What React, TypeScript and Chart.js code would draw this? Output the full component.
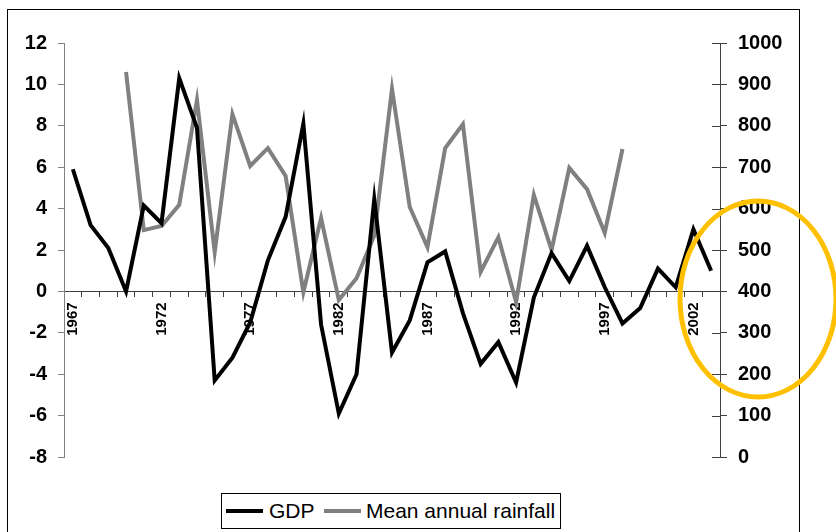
import React, { useEffect, useRef } from 'react';
import { Chart, registerables } from 'chart.js';

Chart.register(...registerables);

const years: string[] = [
  '1967', '1968', '1969', '1970', '1971', '1972', '1973', '1974', '1975', '1976',
  '1977', '1978', '1979', '1980', '1981', '1982', '1983', '1984', '1985', '1986',
  '1987', '1988', '1989', '1990', '1991', '1992', '1993', '1994', '1995', '1996',
  '1997', '1998', '1999', '2000', '2001', '2002', '2003',
];

const gdp: number[] = [
  5.9, 3.2, 2.1, 0.0, 4.15, 3.3, 10.3, 7.9, -4.3, -3.2,
  -1.5, 1.5, 3.6, 8.1, -1.6, -5.9, -4.0, 4.45, -2.95, -1.4,
  1.4, 1.93, -1.05, -3.5, -2.45, -4.4, -0.3, 1.85, 0.5, 2.2,
  0.2, -1.55, -0.8, 1.1, 0.2, 3.0, 1.0,
];

const rainfall: (number | null)[] = [
  null, null, null, 930, 548, 558, 609, 862, 495, 828,
  703, 746, 679, 398, 577, 379, 432, 535, 889, 604,
  507, 746, 804, 447, 531, 374, 633, 500, 698, 647,
  541, 744, null, null, null, null, null,
];

const gdpTicks = { min: -8, max: 12, step: 2 };
const rainTicks = { min: 0, max: 1000, step: 100 };
const labelEvery = 5;

const seriesNames = ['GDP', 'Mean annual rainfall'];
const seriesColors = ['#000000', '#808080'];

const FONT = '"Liberation Sans", Arial, sans-serif';

const decorPlugin = {
  id: 'decor',
  beforeDraw(chart: any) {
    const ctx = chart.ctx;
    ctx.save();
    ctx.fillStyle = '#ffffff';
    ctx.fillRect(0, 0, chart.width, chart.height);
    ctx.strokeStyle = '#000000';
    ctx.lineWidth = 1;
    ctx.strokeRect(7.5, 9.5, 792, 600);
    ctx.restore();
  },
  afterDraw(chart: any) {
    const ctx = chart.ctx;
    const s = chart.scales.y1;
    ctx.save();
    ctx.strokeStyle = '#404040';
    ctx.lineWidth = 1;
    s.ticks.forEach((t: any) => {
      const y = Math.round(s.getPixelForValue(t.value)) + 0.5;
      ctx.beginPath();
      ctx.moveTo(s.left - 8, y);
      ctx.lineTo(s.left, y);
      ctx.stroke();
    });
    ctx.strokeStyle = '#FFC000';
    ctx.lineWidth = 5;
    ctx.beginPath();
    ctx.ellipse(758, 299, 78, 98, 0, 0, Math.PI * 2);
    ctx.stroke();
    ctx.restore();
  },
};

export default function App() {
  const ref = useRef<HTMLCanvasElement | null>(null);

  useEffect(() => {
    if (!ref.current) return;
    const chart = new Chart(ref.current, {
      type: 'line',
      data: {
        labels: years,
        datasets: [
          {
            label: seriesNames[0],
            data: gdp,
            borderColor: seriesColors[0],
            backgroundColor: seriesColors[0],
            borderWidth: 4,
            pointRadius: 0,
            tension: 0,
            yAxisID: 'y',
          },
          {
            label: seriesNames[1],
            data: rainfall,
            borderColor: seriesColors[1],
            backgroundColor: seriesColors[1],
            borderWidth: 4,
            pointRadius: 0,
            tension: 0,
            spanGaps: false,
            yAxisID: 'y1',
          },
        ],
      },
      options: {
        animation: false,
        responsive: false,
        maintainAspectRatio: false,
        devicePixelRatio: 1,
        layout: { padding: { top: 43, bottom: 75, left: 0, right: 0 } },
        plugins: {
          legend: { display: false },
          tooltip: { enabled: false },
        },
        scales: {
          x: {
            type: 'category',
            offset: true,
            position: { y: 0 } as any,
            grid: {
              offset: true,
              drawOnChartArea: false,
              drawTicks: true,
              tickLength: 5,
              color: '#404040',
            },
            border: { display: true, color: '#404040', width: 1 },
            ticks: {
              autoSkip: false,
              minRotation: 90,
              maxRotation: 90,
              padding: 6,
              color: '#000000',
              font: { family: FONT, size: 15, weight: 'bold' },
              callback: function (this: any, _v: any, i: number) {
                return i % labelEvery === 0 ? years[i] : '';
              },
            },
          },
          y: {
            type: 'linear',
            position: 'left',
            min: gdpTicks.min,
            max: gdpTicks.max,
            afterFit: (s: any) => {
              s.width = 64;
            },
            grid: {
              drawOnChartArea: false,
              drawTicks: true,
              tickLength: 6,
              color: '#808080',
            },
            border: { display: true, color: '#808080', width: 1 },
            ticks: {
              stepSize: gdpTicks.step,
              padding: 11,
              color: '#000000',
              font: { family: FONT, size: 20, weight: 'bold' },
              callback: (v: any) => String(v),
            },
          },
          y1: {
            type: 'linear',
            position: 'right',
            min: rainTicks.min,
            max: rainTicks.max,
            afterFit: (s: any) => {
              s.width = 116;
            },
            grid: {
              drawOnChartArea: false,
              drawTicks: true,
              tickLength: 7,
              color: '#404040',
            },
            border: { display: true, color: '#404040', width: 1 },
            ticks: {
              stepSize: rainTicks.step,
              padding: 11,
              color: '#000000',
              font: { family: FONT, size: 20, weight: 'bold' },
              callback: (v: any) => String(v),
            },
          },
        },
      },
      plugins: [decorPlugin],
    } as any);
    return () => chart.destroy();
  }, []);

  const legendText: React.CSSProperties = {
    position: 'absolute',
    top: 0,
    height: 34,
    lineHeight: '34px',
    fontFamily: FONT,
    fontSize: 21,
    color: '#000',
    whiteSpace: 'nowrap',
  };
  const legendLine = (color: string): React.CSSProperties => ({
    position: 'absolute',
    top: 15,
    height: 4,
    width: 37,
    background: color,
  });

  return (
    <div style={{ position: 'absolute', left: 0, top: 0, width: 836, height: 532, overflow: 'hidden', background: '#fff' }}>
      <canvas ref={ref} width={836} height={532} style={{ position: 'absolute', left: 0, top: 0, width: 836, height: 532 }} />
      <div
        style={{
          position: 'absolute',
          left: 221,
          top: 493,
          width: 338,
          height: 34,
          border: '1px solid #000',
          background: '#fff',
        }}
      >
        <div style={{ ...legendLine(seriesColors[0]), left: 4 }} />
        <span style={{ ...legendText, left: 47 }}>{seriesNames[0]}</span>
        <div style={{ ...legendLine(seriesColors[1]), left: 102 }} />
        <span style={{ ...legendText, left: 144 }}>{seriesNames[1]}</span>
      </div>
    </div>
  );
}
